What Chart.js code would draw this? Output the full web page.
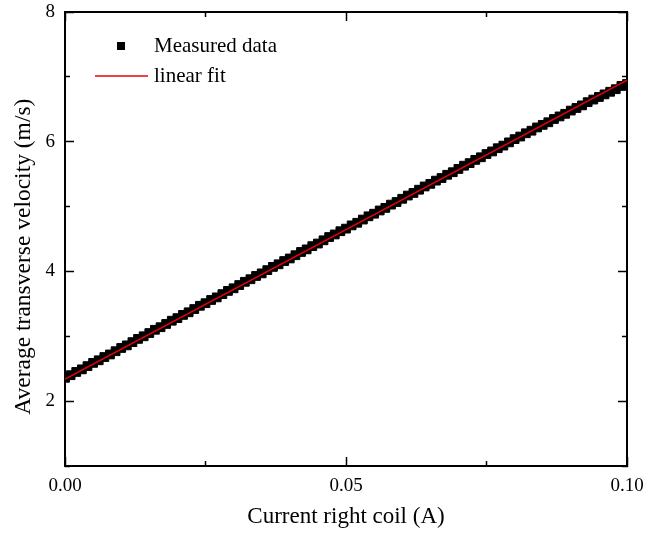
<!DOCTYPE html>
<html>
<head>
<meta charset="utf-8">
<title>Average transverse velocity vs current</title>
<script src="https://cdn.jsdelivr.net/npm/chart.js@4.4.1/dist/chart.umd.min.js"></script>
<style>
  html, body { margin: 0; padding: 0; background: #fff; }
  #wrap { width: 647px; height: 537px; }
</style>
</head>
<body>
<div id="wrap"><canvas id="chart" width="647" height="537"></canvas></div>
<script>
// current in the right coil (A), one reading every 0.001 A
const current = [
  0.000, 0.001, 0.002, 0.003, 0.004, 0.005, 0.006, 0.007, 0.008, 0.009,
  0.010, 0.011, 0.012, 0.013, 0.014, 0.015, 0.016, 0.017, 0.018, 0.019,
  0.020, 0.021, 0.022, 0.023, 0.024, 0.025, 0.026, 0.027, 0.028, 0.029,
  0.030, 0.031, 0.032, 0.033, 0.034, 0.035, 0.036, 0.037, 0.038, 0.039,
  0.040, 0.041, 0.042, 0.043, 0.044, 0.045, 0.046, 0.047, 0.048, 0.049,
  0.050, 0.051, 0.052, 0.053, 0.054, 0.055, 0.056, 0.057, 0.058, 0.059,
  0.060, 0.061, 0.062, 0.063, 0.064, 0.065, 0.066, 0.067, 0.068, 0.069,
  0.070, 0.071, 0.072, 0.073, 0.074, 0.075, 0.076, 0.077, 0.078, 0.079,
  0.080, 0.081, 0.082, 0.083, 0.084, 0.085, 0.086, 0.087, 0.088, 0.089,
  0.090, 0.091, 0.092, 0.093, 0.094, 0.095, 0.096, 0.097, 0.098, 0.099,
  0.100
];

// measured average transverse velocity (m/s)
const velocity = [
  2.36, 2.40, 2.45, 2.49, 2.54, 2.59, 2.63, 2.68, 2.72, 2.77,
  2.82, 2.86, 2.91, 2.96, 3.00, 3.05, 3.10, 3.14, 3.19, 3.24,
  3.28, 3.33, 3.37, 3.42, 3.47, 3.51, 3.56, 3.60, 3.65, 3.70,
  3.74, 3.79, 3.84, 3.88, 3.93, 3.97, 4.02, 4.07, 4.11, 4.16,
  4.20, 4.25, 4.30, 4.34, 4.39, 4.43, 4.48, 4.53, 4.57, 4.62,
  4.66, 4.71, 4.75, 4.80, 4.85, 4.89, 4.94, 4.98, 5.03, 5.07,
  5.12, 5.17, 5.21, 5.26, 5.31, 5.35, 5.40, 5.44, 5.49, 5.53,
  5.58, 5.63, 5.67, 5.72, 5.76, 5.81, 5.85, 5.90, 5.94, 5.99,
  6.04, 6.08, 6.13, 6.17, 6.22, 6.26, 6.30, 6.35, 6.39, 6.43,
  6.48, 6.52, 6.56, 6.61, 6.65, 6.69, 6.73, 6.77, 6.81, 6.86,
  6.89
];

// end points of the linear fit
const fitCurrent = [0.0, 0.1];
const fitVelocity = [2.34, 6.95];

// axis ticks
const xMajorTicks = [0, 0.05, 0.1];
const xMinorTicks = [0.025, 0.075];
const yMajorTicks = [2, 4, 6, 8];
const yMinorTicks = [1, 3, 5, 7];

const serif = "'Liberation Serif', 'Times New Roman', serif";

function setTicks(list) {
  return scale => { scale.ticks = list.map(v => ({ value: v })); };
}

// fixed box sizes, and no extra room for overhanging labels
function fixHeight(h) {
  return s => { s.height = h; s.paddingLeft = 0; s.paddingRight = 0; };
}
function fixWidth(w) {
  return s => { s.width = w; s.paddingTop = 0; s.paddingBottom = 0; };
}

// draw the small legend inside the plot, top left
const legendPlugin = {
  id: "insideLegend",
  afterDraw(chart) {
    const ctx = chart.ctx;
    const sets = chart.data.datasets;
    ctx.save();
    ctx.font = "21px " + serif;
    ctx.textBaseline = "middle";
    ctx.fillStyle = "#000";

    ctx.fillRect(117, 42, 8, 8);
    ctx.fillText(sets[0].label, 154, 46);

    ctx.strokeStyle = sets[1].borderColor;
    ctx.lineWidth = 1.5;
    ctx.beginPath();
    ctx.moveTo(95, 76);
    ctx.lineTo(148, 76);
    ctx.stroke();
    ctx.fillStyle = "#000";
    ctx.fillText(sets[1].label, 154, 76);
    ctx.restore();
  }
};

const ctx = document.getElementById("chart").getContext("2d");

new Chart(ctx, {
  type: "line",
  data: {
    datasets: [
      {
        label: "Measured data",
        data: current.map((c, i) => ({ x: c, y: velocity[i] })),
        order: 1,
        showLine: false,
        pointStyle: "rect",
        pointRadius: 6.2,
        pointBackgroundColor: "#000",
        pointBorderColor: "#000",
        pointBorderWidth: 1
      },
      {
        label: "linear fit",
        data: fitCurrent.map((c, i) => ({ x: c, y: fitVelocity[i] })),
        order: 0,
        borderColor: "#e8000b",
        borderWidth: 1.5,
        pointRadius: 0,
        tension: 0
      }
    ]
  },
  options: {
    responsive: false,
    animation: false,
    events: [],
    layout: { padding: { top: 12, right: 20, left: 0, bottom: 0 } },
    plugins: {
      legend: { display: false },
      tooltip: { enabled: false }
    },
    scales: {
      x: {
        type: "linear",
        position: "bottom",
        weight: 1,
        min: 0,
        max: 0.1,
        afterBuildTicks: setTicks(xMajorTicks),
        afterFit: fixHeight(71),
        border: { display: true, color: "#000", width: 2 },
        grid: { drawOnChartArea: false, tickLength: -9, tickWidth: 1.5, tickColor: "#000" },
        ticks: {
          padding: 18,
          color: "#000",
          font: { family: serif, size: 19 },
          callback: v => v.toFixed(2),
          maxRotation: 0
        },
        title: {
          display: true,
          text: "Current right coil (A)",
          color: "#000",
          font: { family: serif, size: 23 },
          padding: { top: 0, bottom: 6 }
        }
      },
      xMinor: {
        type: "linear",
        axis: "x",
        position: "bottom",
        weight: 0,
        min: 0,
        max: 0.1,
        afterBuildTicks: setTicks(xMinorTicks),
        afterFit: fixHeight(0),
        border: { display: false },
        grid: { drawOnChartArea: false, tickLength: -5, tickWidth: 1.5, tickColor: "#000" },
        ticks: { display: false }
      },
      xTop: {
        type: "linear",
        axis: "x",
        position: "top",
        min: 0,
        max: 0.1,
        afterBuildTicks: setTicks(xMinorTicks),
        afterFit: fixHeight(0),
        border: { display: true, color: "#000", width: 2 },
        grid: { drawOnChartArea: false, tickLength: -5, tickWidth: 1.5, tickColor: "#000" },
        ticks: { display: false }
      },
      xTopMajor: {
        type: "linear",
        axis: "x",
        position: "top",
        min: 0,
        max: 0.1,
        afterBuildTicks: setTicks(xMajorTicks),
        afterFit: fixHeight(0),
        border: { display: false },
        grid: { drawOnChartArea: false, tickLength: -9, tickWidth: 1.5, tickColor: "#000" },
        ticks: { display: false }
      },
      y: {
        type: "linear",
        position: "left",
        weight: 1,
        min: 1,
        max: 8,
        afterBuildTicks: setTicks(yMajorTicks),
        afterFit: fixWidth(65),
        border: { display: true, color: "#000", width: 2 },
        grid: { drawOnChartArea: false, tickLength: -9, tickWidth: 1.5, tickColor: "#000" },
        ticks: {
          padding: 19,
          color: "#000",
          font: { family: serif, size: 19 },
          callback: v => String(v)
        },
        title: {
          display: true,
          // trailing spaces push the centred title a little lower, as in the original
          text: "Average transverse velocity (m/s)      ",
          color: "#000",
          font: { family: serif, size: 23.5 },
          padding: { top: 10, bottom: 0 }
        }
      },
      yMinor: {
        type: "linear",
        axis: "y",
        position: "left",
        weight: 0,
        min: 1,
        max: 8,
        afterBuildTicks: setTicks(yMinorTicks),
        afterFit: fixWidth(0),
        border: { display: false },
        grid: { drawOnChartArea: false, tickLength: -5, tickWidth: 1.5, tickColor: "#000" },
        ticks: { display: false }
      },
      yRight: {
        type: "linear",
        axis: "y",
        position: "right",
        min: 1,
        max: 8,
        afterBuildTicks: setTicks(yMinorTicks),
        afterFit: fixWidth(0),
        border: { display: true, color: "#000", width: 2 },
        grid: { drawOnChartArea: false, tickLength: -5, tickWidth: 1.5, tickColor: "#000" },
        ticks: { display: false }
      },
      yRightMajor: {
        type: "linear",
        axis: "y",
        position: "right",
        min: 1,
        max: 8,
        afterBuildTicks: setTicks(yMajorTicks),
        afterFit: fixWidth(0),
        border: { display: false },
        grid: { drawOnChartArea: false, tickLength: -9, tickWidth: 1.5, tickColor: "#000" },
        ticks: { display: false }
      }
    }
  },
  plugins: [legendPlugin]
});
</script>
</body>
</html>
